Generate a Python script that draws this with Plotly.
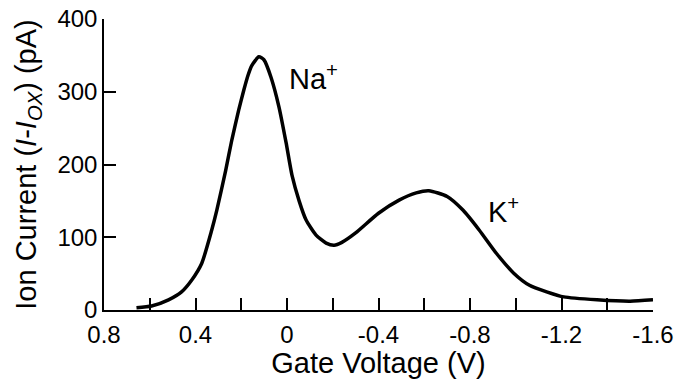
import plotly.graph_objects as go

# Data
gate_voltage = [0.658, 0.592, 0.518, 0.461, 0.417, 0.373, 0.329, 0.307, 0.268, 0.241,
                0.211, 0.189, 0.171, 0.154, 0.123, 0.101, 0.070, 0.035, 0.004, -0.022,
                -0.053, -0.083, -0.127, -0.171, -0.206, -0.24, -0.30, -0.40, -0.49,
                -0.565, -0.62, -0.70, -0.77, -0.84, -0.915, -0.99, -1.06, -1.135, -1.21,
                -1.355, -1.50, -1.60]
ion_current = [3, 5.5, 14, 25, 41, 64, 110, 137, 192, 234,
               275, 302, 322, 336, 348, 344, 320, 279, 230, 185,
               150, 124, 103, 92, 89, 93, 106, 133, 151,
               161, 164, 156, 137, 110, 78, 51, 34, 25, 18,
               14, 12, 14]

x_tickvals = [0.8, 0.4, 0, -0.4, -0.8, -1.2, -1.6]
x_ticktext = ["0.8", "0.4", "0", "-0.4", "-0.8", "-1.2", "-1.6"]
y_tickvals = [0, 100, 200, 300, 400]
y_ticktext = ["0", "100", "200", "300", "400"]

peak_labels = ["Na<sup>+</sup>", "K<sup>+</sup>"]
peak_label_x = [0.0, -0.87]
peak_label_y = [320, 138]

FONT = "Liberation Sans, Arial, sans-serif"

fig = go.Figure()
fig.add_trace(go.Scatter(
    x=gate_voltage, y=ion_current, mode="lines",
    line=dict(color="black", width=3.5, shape="spline", smoothing=0.6),
    showlegend=False, hoverinfo="skip",
))

for t, xx, yy in zip(peak_labels, peak_label_x, peak_label_y):
    fig.add_annotation(x=xx, y=yy, text=t, showarrow=False, xanchor="left",
                       yanchor="middle", font=dict(family=FONT, size=29, color="black"))

axis_common = dict(showline=True, linecolor="black", linewidth=1.5, ticks="inside",
                   ticklen=12, tickwidth=1.5, tickcolor="black", showgrid=False,
                   zeroline=False, automargin=False,
                   tickfont=dict(family=FONT, size=24, color="black"))

fig.update_xaxes(range=[0.8, -1.6], tickvals=x_tickvals, ticktext=x_ticktext,
                 ticklabelstandoff=2,
                 minor=dict(dtick=0.2, tick0=0, ticks="inside", ticklen=12, tickwidth=1.5,
                            tickcolor="black", showgrid=False),
                 title=dict(text="Gate Voltage (V)", font=dict(family=FONT, size=29, color="black"),
                            standoff=4),
                 **axis_common)
fig.update_yaxes(range=[0, 400], tickvals=y_tickvals, ticktext=y_ticktext,
                 title=dict(text="Ion Current (<i>I</i>-<i>I</i><sub><i>OX</i></sub>) (pA)",
                            font=dict(family=FONT, size=29, color="black"), standoff=12),
                 **axis_common)

fig.update_layout(width=674, height=379, margin=dict(l=104, r=21, t=19, b=69),
                  plot_bgcolor="white", paper_bgcolor="white")

fig.write_html("out.html")
